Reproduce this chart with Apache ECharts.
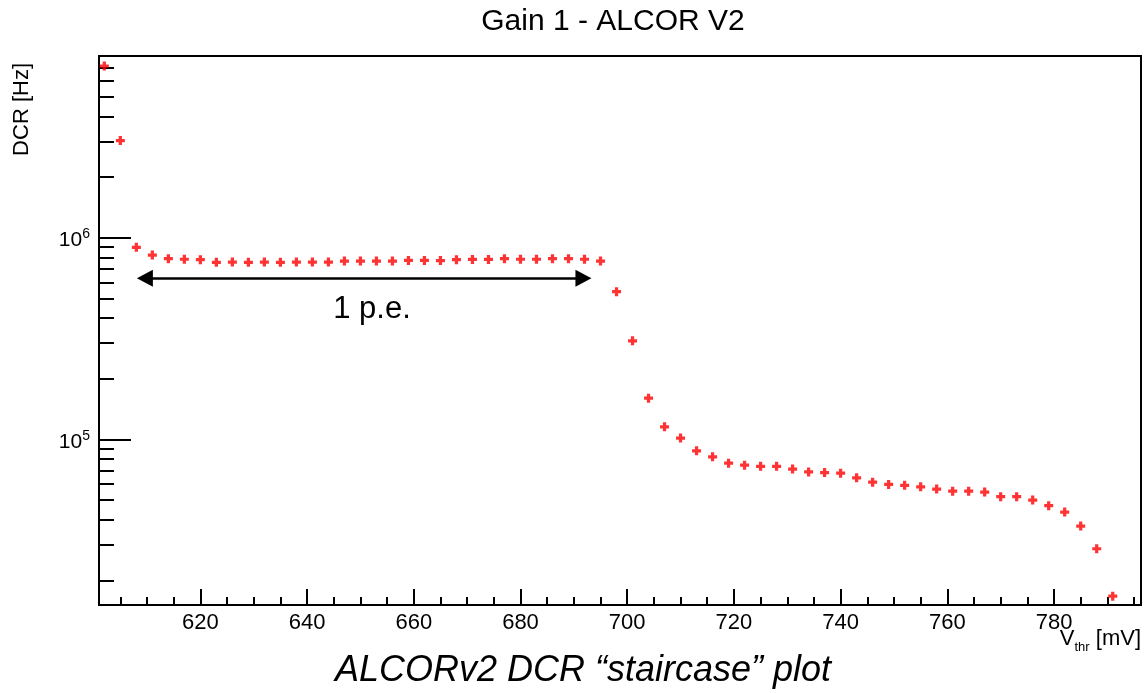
<!DOCTYPE html>
<html>
<head>
<meta charset="utf-8">
<script src="https://cdn.jsdelivr.net/npm/echarts@6/dist/echarts.min.js"></script>
<style>
html,body{margin:0;padding:0;background:#fff;}
#chart{width:1144px;height:693px;}
</style>
</head>
<body>
<div id="chart"></div>
<script>
// ---- data ----
const vThr = [602,605,608,611,614,617,620,623,626,629,632,635,638,641,644,647,650,653,656,659,
  662,665,668,671,674,677,680,683,686,689,692,695,698,701,704,707,710,713,716,719,
  722,725,728,731,734,737,740,743,746,749,752,755,758,761,764,767,770,773,776,779,
  782,785,788,791];
const dcr = [7.1e6,3.03e6,8.96e5,8.2e5,7.87e5,7.82e5,7.78e5,7.55e5,7.57e5,7.55e5,
  7.57e5,7.55e5,7.57e5,7.57e5,7.57e5,7.66e5,7.66e5,7.66e5,7.66e5,7.72e5,
  7.72e5,7.70e5,7.78e5,7.80e5,7.80e5,7.87e5,7.82e5,7.82e5,7.87e5,7.87e5,
  7.82e5,7.66e5,5.4e5,3.08e5,1.60e5,1.155e5,1.015e5,8.78e4,8.2e4,7.62e4,
  7.45e4,7.35e4,7.35e4,7.13e4,6.9e4,6.85e4,6.8e4,6.45e4,6.14e4,5.98e4,
  5.92e4,5.82e4,5.67e4,5.54e4,5.54e4,5.48e4,5.2e4,5.2e4,5.0e4,4.69e4,
  4.36e4,3.72e4,2.87e4,1.67e4];
const xMajorTicks = [620,640,660,680,700,720,740,760,780];
const yMajorTicks = [1e5,1e6];
const yMinorTicks = [2e4,3e4,4e4,5e4,6e4,7e4,8e4,9e4,2e5,3e5,4e5,5e5,6e5,7e5,8e5,9e5,2e6,3e6,4e6,5e6,6e6,7e6];
const xMinorTicks = [];
for (let v = 605; v <= 795; v += 5) if (v % 20 !== 0) xMinorTicks.push(v);
const arrowStart = [609.6, 6.3e5];
const arrowEnd = [691.8, 6.3e5];
const titleText = 'Gain 1 - ALCOR V2';
const captionText = 'ALCORv2 DCR \u201cstaircase\u201d plot';
const peText = '1 p.e.';

const X_MIN = 601, X_MAX = 796.3;
const Y_MIN = 1.51e4, Y_MAX = 7.96e6;
const FONT = '"Liberation Sans", Arial, Helvetica, sans-serif';

const points = vThr.map((v, i) => [v, dcr[i]]);

const chart = echarts.init(document.getElementById('chart'), null, {renderer: 'canvas'});
const axisLineStyle = {color: '#000', width: 2};

const option = {
  backgroundColor: '#fff',
  animation: false,
  grid: {left: 99, right: 3, top: 56, bottom: 88, show: true, borderColor: '#000', borderWidth: 2, backgroundColor: 'transparent'},
  xAxis: [{
    type: 'value', min: X_MIN, max: X_MAX, position: 'bottom',
    axisLine: {show: true, lineStyle: axisLineStyle},
    axisTick: {show: true, inside: true, length: 16, lineStyle: {color: '#000', width: 2}, customValues: xMajorTicks},
    axisLabel: {show: true, customValues: xMajorTicks, margin: 7, color: '#000', fontSize: 22, fontFamily: FONT},
    splitLine: {show: false}
  }, {
    type: 'value', min: X_MIN, max: X_MAX, position: 'bottom',
    axisLine: {show: false},
    axisTick: {show: true, inside: true, length: 8, lineStyle: {color: '#000', width: 2}, customValues: xMinorTicks},
    axisLabel: {show: false},
    splitLine: {show: false}
  }],
  yAxis: [{
    type: 'log', logBase: 10, min: Y_MIN, max: Y_MAX, position: 'left',
    axisLine: {show: true, lineStyle: axisLineStyle},
    axisTick: {show: true, inside: true, length: 32, lineStyle: {color: '#000', width: 2}, customValues: yMajorTicks},
    axisLabel: {
      show: true, customValues: yMajorTicks, margin: 9, color: '#000',
      fontSize: 21, fontFamily: FONT, padding: [5, 0, 0, 0],
      formatter: function (v) {
        const e = Math.round(Math.log10(v));
        return '{b|10}{s|' + e + '}';
      },
      rich: {
        b: {fontSize: 21, lineHeight: 26, fontFamily: FONT, color: '#000', verticalAlign: 'middle'},
        s: {fontSize: 14, lineHeight: 14, fontFamily: FONT, color: '#000', verticalAlign: 'top'}
      }
    },
    splitLine: {show: false}
  }, {
    type: 'log', logBase: 10, min: Y_MIN, max: Y_MAX, position: 'left',
    axisLine: {show: false},
    axisTick: {show: true, inside: true, length: 15, lineStyle: {color: '#000', width: 2}, customValues: yMinorTicks},
    axisLabel: {show: false},
    splitLine: {show: false}
  }],
  series: [{
    type: 'scatter',
    xAxisIndex: 0, yAxisIndex: 0,
    data: points,
    symbol: 'path://M3.2,0H6.8V3.2H10V6.8H6.8V10H3.2V6.8H0V3.2H3.2Z',
    symbolSize: 9,
    itemStyle: {color: '#ff0000'},
    markLine: {
      silent: true,
      symbol: ['path://M5,0L10,10L0,10Z', 'path://M5,0L10,10L0,10Z'],
      symbolSize: [17, 16],
      lineStyle: {color: '#000', width: 2.5, type: 'solid'},
      label: {show: false},
      emphasis: {disabled: true},
      data: [[{coord: arrowStart}, {coord: arrowEnd}]]
    }
  }],
  graphic: [
    {type: 'text', x: 613, y: 22, style: {text: titleText, x: 0, y: 0, align: 'center', verticalAlign: 'middle', fontSize: 30, fontFamily: FONT, fill: '#000'}},
    {type: 'text', x: 22, y: 63, rotation: Math.PI / 2, style: {text: 'DCR [Hz]', x: 0, y: 0, align: 'right', verticalAlign: 'middle', fontSize: 22, fontFamily: FONT, fill: '#000'}},
    {type: 'text', x: 372, y: 309, style: {text: peText, x: 0, y: 0, align: 'center', verticalAlign: 'middle', fontSize: 31, fontFamily: FONT, fill: '#000'}},
    {type: 'text', x: 1141, y: 639, style: {
      text: '{v|V}{s|thr}{v| [mV]}', x: 0, y: 0, align: 'right', verticalAlign: 'middle',
      rich: {
        v: {fontSize: 22, lineHeight: 30, fontFamily: FONT, fill: '#000', verticalAlign: 'middle'},
        s: {fontSize: 13, lineHeight: 13, fontFamily: FONT, fill: '#000', verticalAlign: 'bottom'}
      }
    }},
    {type: 'text', x: 583, y: 671, style: {text: captionText, x: 0, y: 0, align: 'center', verticalAlign: 'middle', fontSize: 36, fontStyle: 'italic', fontFamily: FONT, fill: '#000'}}
  ]
};
chart.setOption(option);
</script>
</body>
</html>
